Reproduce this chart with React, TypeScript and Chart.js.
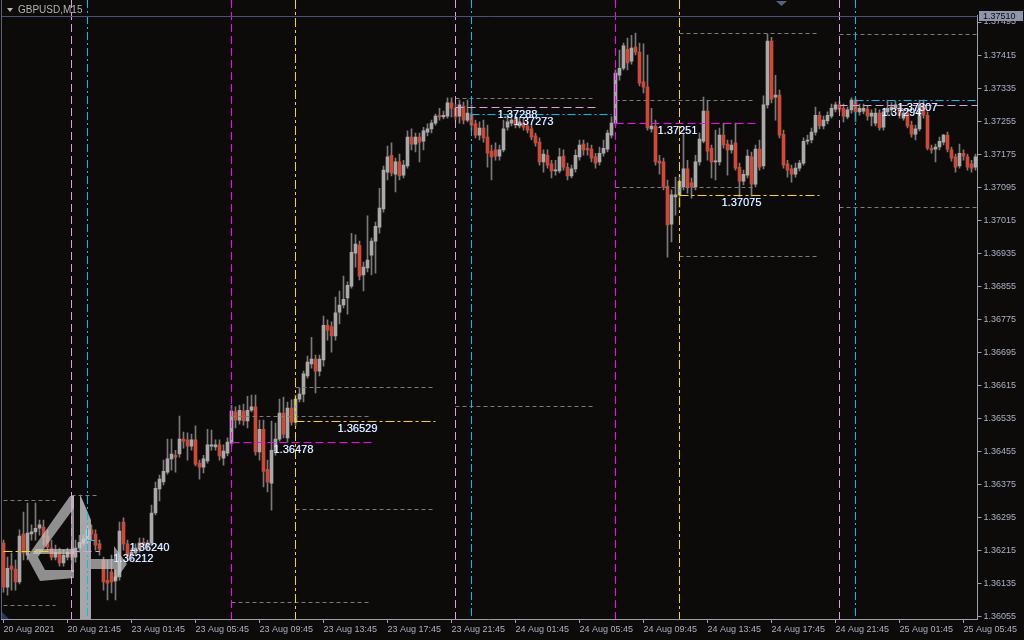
import React, { useEffect, useRef } from "react";
import { Chart, registerables } from "chart.js";

Chart.register(...registerables);

// ---------- data (GBPUSD M15) ----------
const OPEN = [
  1.36232,1.36125,1.36176,1.36169,1.36138,1.36254,1.36203,1.36254,1.36259,1.36268,1.36271,1.36249,1.36220,1.36198,1.36210,1.36184,
  1.36198,1.36210,1.36198,1.36220,1.36232,1.36239,1.36264,1.36254,1.36230,1.36191,1.36142,1.36162,1.36140,1.36150,1.36283,1.36230,
  1.36201,1.36208,1.36217,1.36234,1.36225,1.36232,1.36305,1.36363,1.36380,1.36404,1.36436,1.36445,1.36448,1.36484,1.36482,1.36467,
  1.36482,1.36426,1.36416,1.36431,1.36467,1.36465,1.36470,1.36438,1.36450,1.36474,1.36550,1.36530,1.36552,1.36528,1.36554,1.36562,
  1.36453,1.36508,1.36411,1.36377,1.36455,1.36484,1.36547,1.36487,1.36559,1.36525,1.36581,1.36593,1.36637,1.36666,1.36678,1.36649,
  1.36676,1.36760,1.36756,1.36734,1.36792,1.36809,1.36826,1.36855,1.36935,1.36954,1.36882,1.36899,1.36930,1.36964,1.36998,1.37042,
  1.37131,1.37172,1.37126,1.37156,1.37124,1.37146,1.37216,1.37199,1.37216,1.37206,1.37228,1.37236,1.37250,1.37269,1.37265,1.37267,
  1.37299,1.37286,1.37267,1.37291,1.37257,1.37272,1.37248,1.37221,1.37238,1.37216,1.37182,1.37185,1.37170,1.37185,1.37240,1.37250,
  1.37257,1.37243,1.37250,1.37243,1.37236,1.37219,1.37204,1.37156,1.37172,1.37151,1.37134,1.37134,1.37170,1.37143,1.37122,1.37139,
  1.37168,1.37199,1.37189,1.37187,1.37168,1.37156,1.37177,1.37187,1.37221,1.37250,1.37366,1.37383,1.37429,1.37400,1.37434,1.37422,
  1.37350,1.37337,1.37236,1.37243,1.37158,1.37156,1.37097,1.37005,1.37071,1.37076,1.37095,1.37139,1.37105,1.37095,1.37156,1.37206,
  1.37279,1.37189,1.37156,1.37156,1.37221,1.37199,1.37185,1.37202,1.37143,1.37109,1.37124,1.37168,1.37102,1.37187,1.37146,1.37294,
  1.37449,1.37313,1.37318,1.37223,1.37151,1.37139,1.37126,1.37141,1.37153,1.37206,1.37209,1.37228,1.37269,1.37243,1.37255,1.37267,
  1.37284,1.37294,1.37286,1.37265,1.37282,1.37306,1.37277,1.37279,1.37284,1.37267,1.37250,1.37274,1.37240,1.37277,1.37282,1.37286,
  1.37286,1.37262,1.37274,1.37245,1.37223,1.37236,1.37294,1.37269,1.37189,1.37187,1.37192,1.37204,1.37221,1.37185,1.37168,1.37146,
  1.37177,1.37168,1.37151,1.37143,
];
const HIGH = [
  1.36239,1.36198,1.36208,1.36191,1.36264,1.36307,1.36329,1.36276,1.36329,1.36288,1.36288,1.36264,1.36239,1.36227,1.36220,1.36215,
  1.36220,1.36220,1.36239,1.36251,1.36251,1.36276,1.36276,1.36264,1.36239,1.36198,1.36191,1.36203,1.36167,1.36283,1.36293,1.36239,
  1.36220,1.36230,1.36244,1.36244,1.36239,1.36324,1.36380,1.36397,1.36433,1.36484,1.36484,1.36457,1.36540,1.36501,1.36499,1.36496,
  1.36516,1.36433,1.36445,1.36508,1.36506,1.36482,1.36482,1.36470,1.36487,1.36566,1.36562,1.36566,1.36569,1.36588,1.36591,1.36591,
  1.36530,1.36530,1.36433,1.36528,1.36523,1.36581,1.36586,1.36574,1.36579,1.36591,1.36608,1.36649,1.36685,1.36731,1.36688,1.36688,
  1.36782,1.36773,1.36768,1.36828,1.36843,1.36879,1.36865,1.36983,1.36979,1.36964,1.36913,1.37025,1.36971,1.37010,1.37092,1.37146,
  1.37194,1.37202,1.37165,1.37175,1.37160,1.37231,1.37236,1.37226,1.37226,1.37240,1.37248,1.37257,1.37272,1.37286,1.37279,1.37311,
  1.37311,1.37296,1.37306,1.37301,1.37306,1.37294,1.37257,1.37253,1.37257,1.37245,1.37197,1.37202,1.37197,1.37257,1.37269,1.37274,
  1.37267,1.37262,1.37260,1.37253,1.37245,1.37226,1.37214,1.37185,1.37185,1.37160,1.37160,1.37189,1.37185,1.37153,1.37148,1.37185,
  1.37209,1.37209,1.37202,1.37197,1.37177,1.37192,1.37209,1.37233,1.37265,1.37379,1.37427,1.37444,1.37456,1.37463,1.37468,1.37444,
  1.37442,1.37415,1.37286,1.37257,1.37172,1.37165,1.37112,1.37088,1.37119,1.37124,1.37226,1.37160,1.37117,1.37172,1.37226,1.37313,
  1.37303,1.37197,1.37233,1.37238,1.37250,1.37209,1.37209,1.37250,1.37153,1.37136,1.37185,1.37180,1.37197,1.37209,1.37316,1.37466,
  1.37458,1.37366,1.37330,1.37233,1.37160,1.37148,1.37153,1.37160,1.37214,1.37221,1.37238,1.37289,1.37277,1.37267,1.37277,1.37296,
  1.37301,1.37303,1.37296,1.37289,1.37311,1.37311,1.37296,1.37296,1.37291,1.37282,1.37286,1.37282,1.37286,1.37306,1.37299,1.37303,
  1.37296,1.37284,1.37282,1.37255,1.37245,1.37306,1.37306,1.37277,1.37197,1.37199,1.37216,1.37223,1.37228,1.37192,1.37175,1.37199,
  1.37185,1.37175,1.37160,1.37175,
];
const LOW = [
  1.36113,1.36106,1.36118,1.36118,1.36133,1.36191,1.36191,1.36239,1.36239,1.36251,1.36227,1.36215,1.36191,1.36191,1.36176,1.36176,
  1.36191,1.36191,1.36186,1.36210,1.36227,1.36232,1.36239,1.36215,1.36203,1.36118,1.36094,1.36111,1.36094,1.36142,1.36215,1.36191,
  1.36191,1.36201,1.36210,1.36220,1.36215,1.36225,1.36300,1.36334,1.36373,1.36399,1.36409,1.36404,1.36440,1.36462,1.36433,1.36457,
  1.36419,1.36387,1.36402,1.36426,1.36457,1.36457,1.36433,1.36421,1.36443,1.36467,1.36511,1.36520,1.36518,1.36511,1.36550,1.36445,
  1.36433,1.36368,1.36356,1.36312,1.36445,1.36479,1.36487,1.36477,1.36518,1.36516,1.36574,1.36574,1.36632,1.36656,1.36596,1.36637,
  1.36661,1.36724,1.36695,1.36724,1.36763,1.36802,1.36787,1.36850,1.36901,1.36870,1.36843,1.36889,1.36882,1.36886,1.36983,1.37034,
  1.37112,1.37122,1.37083,1.37112,1.37117,1.37141,1.37185,1.37180,1.37156,1.37185,1.37219,1.37226,1.37245,1.37257,1.37260,1.37262,
  1.37265,1.37257,1.37250,1.37248,1.37253,1.37233,1.37214,1.37209,1.37204,1.37143,1.37112,1.37160,1.37160,1.37180,1.37233,1.37243,
  1.37238,1.37238,1.37233,1.37226,1.37209,1.37194,1.37148,1.37131,1.37141,1.37117,1.37124,1.37129,1.37136,1.37112,1.37117,1.37131,
  1.37160,1.37172,1.37172,1.37156,1.37141,1.37148,1.37170,1.37180,1.37214,1.37243,1.37354,1.37379,1.37379,1.37393,1.37415,1.37340,
  1.37323,1.37233,1.37228,1.37148,1.37126,1.37088,1.36925,1.36962,1.37027,1.37046,1.37088,1.37080,1.37068,1.37088,1.37148,1.37202,
  1.37160,1.37117,1.37112,1.37148,1.37189,1.37124,1.37177,1.37136,1.37071,1.37100,1.37117,1.37073,1.37095,1.37136,1.37139,1.37286,
  1.37299,1.37257,1.37214,1.37141,1.37119,1.37107,1.37119,1.37134,1.37148,1.37199,1.37202,1.37221,1.37236,1.37236,1.37248,1.37262,
  1.37277,1.37277,1.37253,1.37260,1.37274,1.37253,1.37269,1.37272,1.37257,1.37243,1.37243,1.37233,1.37233,1.37269,1.37272,1.37282,
  1.37262,1.37257,1.37238,1.37216,1.37209,1.37231,1.37262,1.37185,1.37177,1.37156,1.37185,1.37197,1.37180,1.37158,1.37131,1.37141,
  1.37160,1.37136,1.37131,1.37136,
];
const CLOSE = [
  1.36125,1.36171,1.36169,1.36138,1.36249,1.36208,1.36256,1.36259,1.36268,1.36276,1.36247,1.36222,1.36198,1.36210,1.36184,1.36203,
  1.36210,1.36198,1.36220,1.36234,1.36242,1.36264,1.36254,1.36227,1.36217,1.36138,1.36135,1.36138,1.36150,1.36261,1.36230,1.36201,
  1.36210,1.36220,1.36232,1.36227,1.36232,1.36305,1.36365,1.36387,1.36406,1.36436,1.36448,1.36440,1.36484,1.36479,1.36467,1.36482,
  1.36423,1.36416,1.36436,1.36470,1.36470,1.36470,1.36443,1.36455,1.36477,1.36552,1.36530,1.36554,1.36528,1.36554,1.36562,1.36453,
  1.36508,1.36406,1.36380,1.36457,1.36484,1.36547,1.36496,1.36559,1.36525,1.36581,1.36593,1.36642,1.36671,1.36678,1.36649,1.36678,
  1.36760,1.36748,1.36734,1.36790,1.36809,1.36823,1.36857,1.36937,1.36957,1.36879,1.36901,1.36918,1.36964,1.37000,1.37044,1.37136,
  1.37168,1.37129,1.37156,1.37122,1.37148,1.37216,1.37199,1.37216,1.37204,1.37231,1.37236,1.37250,1.37267,1.37265,1.37269,1.37299,
  1.37286,1.37265,1.37294,1.37257,1.37274,1.37245,1.37221,1.37238,1.37214,1.37177,1.37168,1.37170,1.37185,1.37236,1.37253,1.37257,
  1.37245,1.37253,1.37240,1.37233,1.37216,1.37202,1.37156,1.37175,1.37148,1.37134,1.37136,1.37168,1.37143,1.37122,1.37139,1.37172,
  1.37197,1.37185,1.37185,1.37165,1.37153,1.37177,1.37189,1.37226,1.37250,1.37371,1.37383,1.37437,1.37396,1.37432,1.37422,1.37347,
  1.37337,1.37238,1.37243,1.37156,1.37153,1.37095,1.37003,1.37076,1.37076,1.37109,1.37139,1.37095,1.37095,1.37156,1.37211,1.37279,
  1.37182,1.37156,1.37158,1.37221,1.37197,1.37185,1.37197,1.37141,1.37109,1.37126,1.37170,1.37102,1.37187,1.37143,1.37294,1.37449,
  1.37308,1.37318,1.37221,1.37148,1.37136,1.37126,1.37141,1.37153,1.37206,1.37209,1.37228,1.37269,1.37243,1.37257,1.37269,1.37286,
  1.37294,1.37284,1.37267,1.37282,1.37306,1.37277,1.37286,1.37286,1.37267,1.37274,1.37274,1.37238,1.37277,1.37286,1.37289,1.37294,
  1.37269,1.37274,1.37243,1.37223,1.37236,1.37294,1.37269,1.37189,1.37185,1.37192,1.37206,1.37221,1.37187,1.37165,1.37143,1.37177,
  1.37170,1.37143,1.37141,1.37168,
];

const TIME_LABELS = [
  "20 Aug 2021", "20 Aug 21:45", "23 Aug 01:45", "23 Aug 05:45", "23 Aug 09:45", "23 Aug 13:45",
  "23 Aug 17:45", "23 Aug 21:45", "24 Aug 01:45", "24 Aug 05:45", "24 Aug 09:45", "24 Aug 13:45",
  "24 Aug 17:45", "24 Aug 21:45", "25 Aug 01:45", "25 Aug 05:45",
];
const BARS_PER_LABEL = 16;

const Y_TICKS = [
  1.36055, 1.36135, 1.36215, 1.36295, 1.36375, 1.36455, 1.36535, 1.36615, 1.36695, 1.36775,
  1.36855, 1.36935, 1.37015, 1.37095, 1.37175, 1.37255, 1.37335, 1.37415, 1.37495,
];
const Y_MIN = 1.36048;
const Y_MAX = 1.37512;
const PRICE_LINE = 1.3751;

// session markers (bar indices)
const PINK_V = [17, 113, 209];
const CYAN_V = [21, 117, 213];
const MAGENTA_V = [57, 153];
const YELLOW_V = [73, 169];

// levels: [startBar, endBar, price]
const GREY_LEVELS = [
  [0, 13, 1.36336], [0, 13, 1.36082], [17, 24, 1.36348],
  [57, 92, 1.3654], [57, 92, 1.36089], [73, 108, 1.3661], [73, 108, 1.36314],
  [113, 148, 1.37311], [113, 148, 1.36564], [153, 188, 1.37306], [153, 188, 1.37095],
  [169, 204, 1.37468], [169, 204, 1.36928], [209, 243, 1.37466], [209, 243, 1.37046],
];
const PREV_YELLOW = [[0, 12, 1.36212]];
const PINK_LEVELS = [[17, 24, 1.36212], [113, 148, 1.37288], [209, 243, 1.37294]];
const CYAN_LEVELS = [[21, 24, 1.3624], [117, 152, 1.37273], [213, 243, 1.37307]];
const MAGENTA_LEVELS = [[57, 92, 1.36478], [153, 188, 1.37251]];
const YELLOW_LEVELS = [[73, 108, 1.36529], [169, 204, 1.37075]];

// ---------- styles ----------
const BG = "#0d0b0a";
const BULL = "#a9a9a9";
const BEAR = "#cd4a37";
const WICK = "#7a7a7a";
const AXIS = "#9aa0ae";
const TEXT = "#aab1c2";
const FONT = '"Liberation Sans", Arial, sans-serif';
const C_GREY = "#7c7c7c";
const C_PINK = "#dda0dd";
const C_CYAN = "#00bfff";
const C_MAGENTA = "#ff00ff";
const C_YELLOW = "#ffd700";

function poly(c: CanvasRenderingContext2D, pts: number[][]) {
  c.beginPath();
  c.moveTo(pts[0][0], pts[0][1]);
  for (let i = 1; i < pts.length; i++) c.lineTo(pts[i][0], pts[i][1]);
  c.closePath();
  c.fill();
}

const decor = {
  id: "decor",
  beforeDraw(chart: any) {
    const c = chart.ctx;
    c.save();
    c.fillStyle = BG;
    c.fillRect(0, 0, chart.width, chart.height);
    c.restore();
  },
  afterDatasetsDraw(chart: any) {
    const c: CanvasRenderingContext2D = chart.ctx;
    const xs = chart.scales.x;
    const ys = chart.scales.y;
    const area = chart.chartArea;
    const n = CLOSE.length;
    const px = (i: number) => (i >= n - 1 ? area.right : Math.floor(xs.getPixelForValue(i)) + 0.5);
    const py = (v: number) => Math.round(ys.getPixelForValue(v)) + 0.5;

    // watermark logo
    c.save();
    c.fillStyle = "rgba(200,200,200,0.7)";
    poly(c, [[27, 557], [70, 496], [74, 496], [74, 508], [38, 557]]);
    poly(c, [[71, 496], [74, 496], [74, 572], [71, 572]]);
    poly(c, [[36, 549], [74, 549], [74, 554], [33, 554]]);
    poly(c, [[27, 557], [38, 557], [45, 570], [74, 570], [74, 578], [40, 581]]);
    c.fillStyle = "rgba(205,205,205,0.8)";
    poly(c, [[80, 494], [91, 520], [91, 619], [80, 619]]);
    c.fillStyle = "rgba(200,200,200,0.7)";
    poly(c, [[91, 559], [114, 559], [114, 546], [127, 564], [114, 582], [114, 569], [91, 569]]);
    c.fillStyle = "#2b3563";
    poly(c, [[2, 612], [9, 619], [2, 619]]);
    c.restore();

    c.save();
    c.lineWidth = 1;
    const hline = (lv: number[][], color: string, dash: number[]) => {
      c.strokeStyle = color;
      c.setLineDash(dash);
      for (const [s, e, v] of lv) {
        const y = py(v);
        c.beginPath();
        c.moveTo(px(s), y);
        c.lineTo(px(e), y);
        c.stroke();
      }
    };
    const vline = (bars: number[], color: string, dash: number[]) => {
      c.strokeStyle = color;
      c.setLineDash(dash);
      for (const b of bars) {
        const x = px(b);
        c.beginPath();
        c.moveTo(x, 0);
        c.lineTo(x, area.bottom);
        c.stroke();
      }
    };
    hline(GREY_LEVELS, C_GREY, [4, 3]);
    vline(PINK_V, C_PINK, [8, 4]);
    vline(CYAN_V, C_CYAN, [8, 3, 2, 3]);
    vline(MAGENTA_V, C_MAGENTA, [8, 4]);
    vline(YELLOW_V, C_YELLOW, [9, 3, 3, 3]);
    hline(PREV_YELLOW, C_YELLOW, [9, 3, 3, 3]);
    hline(PINK_LEVELS, C_PINK, [8, 4]);
    hline(CYAN_LEVELS, C_CYAN, [8, 3, 2, 3]);
    hline(MAGENTA_LEVELS, C_MAGENTA, [8, 4]);
    hline(YELLOW_LEVELS, C_YELLOW, [9, 3, 3, 3]);
    c.setLineDash([]);

    // value labels
    c.font = `11px ${FONT}`;
    c.textAlign = "left";
    c.textBaseline = "middle";
    const lab = (lv: number[][]) => {
      for (const [s, , v] of lv) {
        const x = px(s) + 42;
        const y = py(v) + 7;
        c.fillStyle = "#2f6fd8";
        c.fillText(v.toFixed(5), x + 0.6, y + 0.4);
        c.fillStyle = "#ffffff";
        c.fillText(v.toFixed(5), x, y);
      }
    };
    lab(PINK_LEVELS);
    lab(CYAN_LEVELS);
    lab(MAGENTA_LEVELS);
    lab(YELLOW_LEVELS);
    c.restore();
  },
  afterDraw(chart: any) {
    const c: CanvasRenderingContext2D = chart.ctx;
    const ys = chart.scales.y;
    const area = chart.chartArea;
    c.save();
    // left frame
    c.fillStyle = "#5c6272";
    c.fillRect(1, 0, 1, area.bottom);
    // price line
    const yl = Math.round(ys.getPixelForValue(PRICE_LINE)) + 0.5;
    c.strokeStyle = "#47507e";
    c.lineWidth = 1;
    c.beginPath();
    c.moveTo(2, yl);
    c.lineTo(area.right, yl);
    c.stroke();
    // price box
    c.fillStyle = "#8c95a9";
    c.fillRect(979, yl - 5.5, 44, 10);
    c.fillStyle = "#0c0c14";
    c.font = `9px ${FONT}`;
    c.textBaseline = "middle";
    c.textAlign = "left";
    c.fillText(PRICE_LINE.toFixed(5), 983, yl + 0.5);
    // title
    c.fillStyle = "#b4b4b4";
    poly(c, [[7, 8], [13, 8], [10, 12]]);
    c.font = `10px ${FONT}`;
    c.fillText("GBPUSD,M15", 18, 10);
    // shift marker
    c.fillStyle = "#56627f";
    poly(c, [[776, 1], [787, 1], [781.5, 6]]);
    c.restore();
  },
};

export default function App() {
  const ref = useRef<HTMLCanvasElement>(null);
  useEffect(() => {
    document.body.style.margin = "0";
    document.body.style.background = BG;
    const canvas = ref.current;
    if (!canvas) return;
    const labels = CLOSE.map((_, i) => String(i));
    const bodies = OPEN.map((o, i) => [o, CLOSE[i]]);
    const wicks = LOW.map((l, i) => [l, HIGH[i]]);
    const bodyColors = OPEN.map((o, i) => (CLOSE[i] < o ? BEAR : BULL));
    const font = { family: FONT, size: 9 };
    const chart = new Chart(canvas, {
      type: "bar",
      data: {
        labels,
        datasets: [
          { data: bodies, backgroundColor: bodyColors, barThickness: 3, grouped: false, minBarLength: 1, order: 0, borderWidth: 0 } as any,
          { data: wicks, backgroundColor: WICK, barThickness: 1, grouped: false, order: 1, borderWidth: 0 } as any,
        ],
      },
      options: {
        responsive: false,
        animation: false,
        devicePixelRatio: 1,
        layout: { padding: { top: 15, left: 1.5, right: 0, bottom: 0 } },
        plugins: { legend: { display: false }, tooltip: { enabled: false } },
        scales: {
          x: {
            type: "category",
            offset: true,
            grid: { offset: false, drawOnChartArea: false, drawTicks: true, tickLength: 4, color: AXIS },
            border: { display: true, color: AXIS },
            ticks: {
              autoSkip: false,
              maxRotation: 0,
              minRotation: 0,
              align: "start",
              padding: 1,
              color: TEXT,
              font,
              callback: (_v: any, i: number) => (i % BARS_PER_LABEL === 0 ? TIME_LABELS[i / BARS_PER_LABEL] : null),
            },
            afterFit: (s: any) => {
              s.height = 21;
              s.paddingLeft = 0;
              s.paddingRight = 0;
            },
          },
          y: {
            type: "linear",
            position: "right",
            min: Y_MIN,
            max: Y_MAX,
            grid: { drawOnChartArea: false, drawTicks: true, tickLength: 4, color: AXIS },
            border: { display: true, color: AXIS },
            ticks: { padding: 2, color: TEXT, font, callback: (v: any) => Number(v).toFixed(5) },
            afterBuildTicks: (s: any) => {
              s.ticks = Y_TICKS.map((v) => ({ value: v }));
            },
            afterFit: (s: any) => {
              s.width = 46.5;
              s.paddingTop = 0;
              s.paddingBottom = 0;
            },
          },
        },
      } as any,
      plugins: [decor as any],
    });
    return () => chart.destroy();
  }, []);
  return (
    <div style={{ position: "fixed", left: 0, top: 0, width: 1024, height: 640, background: BG }}>
      <canvas ref={ref} width={1024} height={640} style={{ display: "block", width: 1024, height: 640 }} />
    </div>
  );
}
